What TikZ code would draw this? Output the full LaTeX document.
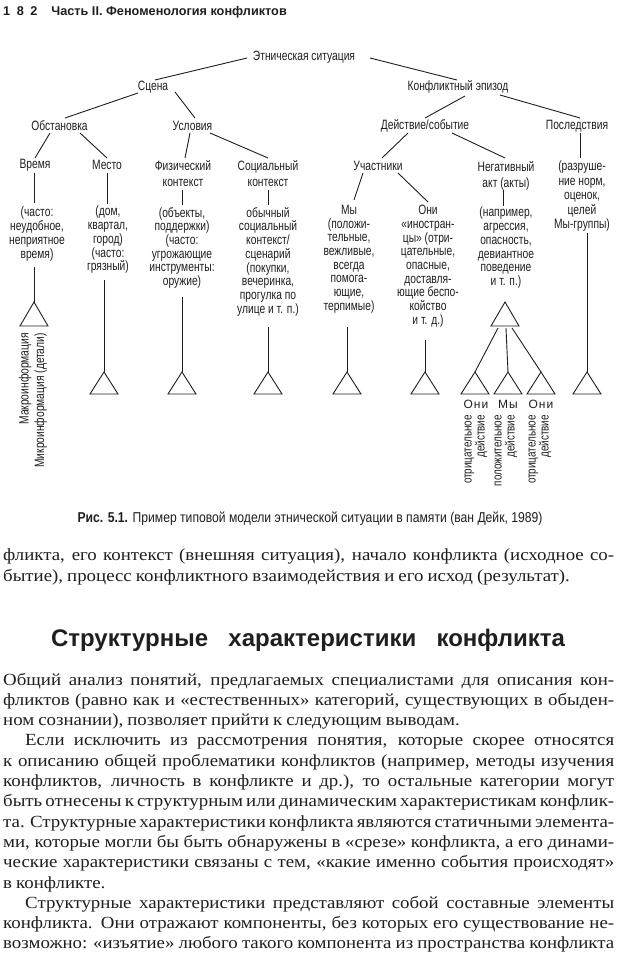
\documentclass[tikz,border=0pt]{standalone}
\usepackage{fontspec}
\setmainfont{Liberation Serif}
\newfontfamily\dgf[FakeStretch=0.76]{Liberation Sans}
\newfontfamily\capf[FakeStretch=0.85]{Liberation Sans}
\newfontfamily\hdf{Liberation Sans}
\newfontfamily\lbf[LetterSpace=8]{Liberation Sans}
\newfontfamily\bodyf[FakeStretch=1.11,WordSpace={0.85,2,2.5}]{Liberation Serif}
\colorlet{ink}{black!88}
\tikzset{
  lvl/.style={font=\dgf\fontsize{13.5}{16.5}\selectfont, inner sep=0pt, align=center, text=ink},
  blk/.style={font=\dgf\fontsize{13.5}{13.7}\selectfont, inner sep=0pt, align=center, anchor=north, text=ink},
  conn/.style={draw=ink, line width=0.9pt},
  rotlbl/.style={font=\dgf\fontsize{13}{13}\selectfont, inner sep=0pt, align=right, rotate=90, anchor=east, text=ink},
  bodyline/.style={font=\bodyf\fontsize{17}{20}\selectfont, inner sep=0pt, anchor=base west, text=ink},
}
\newcommand\jl[2][611pt]{\makebox[#1][s]{#2}}
\begin{document}
\begin{tikzpicture}[x=1pt,y=-1pt]
\fill[white] (0,0) rectangle (620,958);
\useasboundingbox (0,0) rectangle (620,958);

% header
\node[font=\hdf\bfseries\fontsize{12.7}{14}\selectfont, anchor=base west, inner sep=0pt, text=ink] (hdr) at (3,15.5)
  {1\hspace{6.5pt}8\hspace{6.5pt}2\hspace{14pt}Часть II. Феноменология конфликтов};

% tree levels
\node[lvl] (ethn) at (304,57) {Этническая ситуация};
\node[lvl] (scena) at (153,87) {Сцена};
\node[lvl] (konf) at (458,87) {Конфликтный эпизод};
\node[lvl] (obst) at (59.5,126) {Обстановка};
\node[lvl] (usl) at (192.5,126) {Условия};
\node[lvl] (deist) at (425,126) {Действие/событие};
\node[lvl] (posl) at (577,126) {Последствия};
\node[lvl] (vrem) at (35,165) {Время};
\node[lvl] (mesto) at (107,165) {Место};
\node[lvl,anchor=north] (fiz) at (183,160) {Физический\\контекст};
\node[lvl,anchor=north] (soc) at (268,160) {Социальный\\контекст};
\node[lvl] (uch) at (378,166) {Участники};
\node[lvl,anchor=north] (neg) at (506,161) {Негативный\\акт (акты)};

% text blocks
\node[blk] (vremt) at (37,207) {(часто:\\неудобное,\\неприятное\\время)};
\node[blk] (mestot) at (108,206) {(дом,\\квартал,\\город)\\(часто:\\грязный)};
\node[blk] (fizt) at (182,207) {(объекты,\\поддержки)\\(часто:\\угрожающие\\инструменты:\\оружие)};
\node[blk] (soct) at (268,207) {обычный\\социальный\\контекст/\\сценарий\\(покупки,\\вечеринка,\\прогулка по\\улице и т. п.)};
\node[blk] (my) at (349,205) {Мы\\(положи-\\тельные,\\вежливые,\\всегда\\помога-\\ющие,\\терпимые)};
\node[blk] (oni) at (428,205) {Они\\«иностран-\\цы» (отри-\\цательные,\\опасные,\\доставля-\\ющие беспо-\\койство\\и т. д.)};
\node[blk] (negt) at (506,207) {(например,\\агрессия,\\опасность,\\девиантное\\поведение\\и т. п.)};
\node[blk,font=\dgf\fontsize{13.5}{14.5}\selectfont] (razr) at (582,161) {(разруше-\\ние норм,\\оценок,\\целей\\Мы-группы)};

% tree connectors
\draw[conn] ([shift={(-57,1)}]ethn.center) -- ([shift={(2,-7)}]scena.center);
\draw[conn] ([shift={(66,1)}]ethn.center) -- ([shift={(-1,-7)}]konf.center);
\draw[conn] ([shift={(-15,6)}]scena.center) -- ([shift={(5.5,-8)}]obst.center);
\draw[conn] ([shift={(22,5)}]scena.center) -- ([shift={(2.5,-8)}]usl.center);
\draw[conn] ([shift={(7,9)}]konf.center) -- ([shift={(0,-8)}]deist.center);
\draw[conn] ([shift={(42,8)}]konf.center) -- ([shift={(3,-8)}]posl.center);
\draw[conn] ([shift={(-9.5,7)}]obst.center) -- ([shift={(0,-7)}]vrem.center);
\draw[conn] ([shift={(20.5,7)}]obst.center) -- ([shift={(0,-7)}]mesto.center);
\draw[conn] ([shift={(-2.5,7)}]usl.center) -- ([shift={(2,-2)}]fiz.north);
\draw[conn] ([shift={(17.5,7)}]usl.center) -- ([shift={(0,-2)}]soc.north);
\draw[conn] ([shift={(-17,7)}]deist.center) -- ([shift={(4,-8)}]uch.center);
\draw[conn] ([shift={(27,7)}]deist.center) -- ([shift={(-1,-3)}]neg.north);
\draw[conn] ([shift={(3,7)}]posl.center) -- ([shift={(-2,-3)}]razr.north);

% short connectors to text blocks
\draw[conn] ([shift={(-1,8)}]vrem.center) -- ([shift={(-3,-4)}]vremt.north);
\draw[conn] ([shift={(0,8)}]mesto.center) -- ([shift={(-1,-2)}]mestot.north);
\draw[conn] ([shift={(-1,30)}]fiz.north) -- ([shift={(0,-2)}]fizt.north);
\draw[conn] ([shift={(0,30)}]soc.north) -- ([shift={(0,-2)}]soct.north);
\draw[conn] ([shift={(-3,29)}]neg.north) -- ([shift={(-3,-1)}]negt.north);
\draw[conn] ([shift={(-15,7)}]uch.center) -- ([shift={(5,-5)}]my.north);
\draw[conn] ([shift={(20,7)}]uch.center) -- ([shift={(0,-3)}]oni.north);

% triangles
\coordinate (tv) at (34,302);
\coordinate (tm) at (104,372);
\coordinate (tf) at (182,372);
\coordinate (ts) at (268,372);
\coordinate (tmy) at (347,372);
\coordinate (toni) at (425,372);
\coordinate (tneg) at (505,302);
\coordinate (ta) at (475,372);
\coordinate (tb) at (508,372);
\coordinate (tc) at (541,372);
\coordinate (tr) at (587,372);
\foreach \p in {tv,tneg}{\draw[conn] (\p) -- ++(14,24) -- ++(-28,0) -- cycle;}
\foreach \p in {tm,tf,ts,tmy,toni,ta,tb,tc,tr}{\draw[conn] (\p) -- ++(14,22) -- ++(-28,0) -- cycle;}

% long connectors
\draw[conn] ([shift={(-3,60)}]vremt.north) -- (tv);
\draw[conn] ([shift={(-4,74)}]mestot.north) -- (tm);
\draw[conn] ([shift={(0,90)}]fizt.north) -- (tf);
\draw[conn] ([shift={(0,120)}]soct.north) -- (ts);
\draw[conn] ([shift={(-2,122)}]my.north) -- (tmy);
\draw[conn] ([shift={(-3,135)}]oni.north) -- (toni);
\draw[conn] ([shift={(5,72)}]razr.north) -- (tr);
\draw[conn] ([shift={(-7,26)}]tneg) -- (ta);
\draw[conn] ([shift={(1,26)}]tneg) -- (tb);
\draw[conn] ([shift={(7,26)}]tneg) -- (tc);

% labels under the small triangles
\node[font=\lbf\fontsize{12}{13}\selectfont, inner sep=0pt, text=ink] (lo1) at (476,404) {Они};
\node[font=\lbf\fontsize{12}{13}\selectfont, inner sep=0pt, text=ink] (lmy) at (508,404) {Мы};
\node[font=\lbf\fontsize{12}{13}\selectfont, inner sep=0pt, text=ink] (lo2) at (541,404) {Они};
\node[rotlbl] (r1) at (476,415) {отрицательное\\действие};
\node[rotlbl] (r2) at (506,415) {положительное\\действие};
\node[rotlbl] (r3) at (540,415) {отрицательное\\действие};
\node[rotlbl,font=\dgf\fontsize{13.5}{15.5}\selectfont] (macro) at (33,333) {Макроинформация\\Микроинформация (детали)};

% caption
\node[font=\capf\fontsize{14.3}{16}\selectfont, inner sep=0pt, anchor=base, text=ink] (cap) at (310,522)
  {\textbf{Рис. 5.1.} Пример типовой модели этнической ситуации в памяти (ван Дейк, 1989)};

% body text
\node[bodyline] (p1a) at (3,560) {\jl{фликта, его контекст (внешняя ситуация), начало конфликта (исходное со-}};
\node[bodyline] (p1b) at (3,581) {бытие), процесс конфликтного взаимодействия и его исход (результат).};
\node[font=\hdf\bfseries\fontsize{24}{28}\selectfont, inner sep=0pt, anchor=base, text=ink] (head) at (308,646)
  {\makebox[514pt][s]{Структурные характеристики конфликта}};
\node[bodyline] (b1) at (3,685) {\jl{Общий анализ понятий, предлагаемых специалистами для описания кон-}};
\node[bodyline] (b2) at (3,705.3) {\jl{фликтов (равно как и «естественных» категорий, существующих в обыден-}};
\node[bodyline] (b3) at (3,725.6) {ном сознании), позволяет прийти к следующим выводам.};
\node[bodyline] (b4) at (25,745.9) {\jl[589pt]{Если исключить из рассмотрения понятия, которые скорее относятся}};
\node[bodyline] (b5) at (3,766.2) {\jl{к описанию общей проблематики конфликтов (например, методы изучения}};
\node[bodyline] (b6) at (3,786.5) {\jl{конфликтов, личность в конфликте и др.), то остальные категории могут}};
\node[bodyline] (b7) at (3,806.8) {\jl{быть отнесены к структурным или динамическим характеристикам конфлик-}};
\node[bodyline] (b8) at (3,827.1) {\jl{та. Структурные характеристики конфликта являются статичными элемента-}};
\node[bodyline] (b9) at (3,847.4) {\jl{ми, которые могли бы быть обнаружены в «срезе» конфликта, а его динами-}};
\node[bodyline] (b10) at (3,867.7) {\jl{ческие характеристики связаны с тем, «какие именно события происходят»}};
\node[bodyline] (b11) at (3,888) {в конфликте.};
\node[bodyline] (b12) at (25,908.3) {\jl[589pt]{Структурные характеристики представляют собой составные элементы}};
\node[bodyline] (b13) at (3,928.6) {\jl{конфликта. Они отражают компоненты, без которых его существование не-}};
\node[bodyline] (b14) at (3,948.9) {\jl{возможно: «изъятие» любого такого компонента из пространства конфликта}};
\end{tikzpicture}
\end{document}
